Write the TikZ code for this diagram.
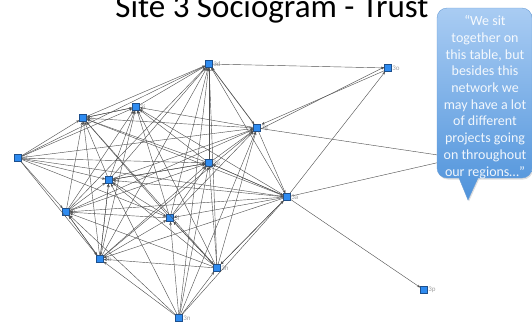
\documentclass[tikz,border=0pt]{standalone}
\usepackage{fontspec}
\setmainfont{Carlito}
\usetikzlibrary{arrows.meta,shadows}
\definecolor{actorblue}{HTML}{2E8BF0}
\definecolor{actoredge}{HTML}{1D4F8C}
\definecolor{tiegray}{HTML}{505050}
\definecolor{lblgray}{HTML}{A0A0A0}
\definecolor{calloutTop}{HTML}{A9CCF3}
\definecolor{calloutBot}{HTML}{4F93DB}
\definecolor{calloutEdge}{HTML}{6C9FD6}
\tikzset{
  actor/.style={rectangle, minimum size=7pt, inner sep=0pt, fill=actorblue, draw=actoredge, line width=0.4pt},
  lbl/.style={font=\fontsize{7}{8}\selectfont, text=lblgray, inner sep=0.5pt},
  tie/.style={draw=tiegray, line width=0.42pt, -{Stealth[length=3.2pt,width=2.6pt]}},
  tiepair/.style={tie, {Stealth[length=3.2pt,width=2.6pt]}-{Stealth[length=3.2pt,width=2.6pt]}},
}
\begin{document}
\begin{tikzpicture}[x=1pt,y=-1pt]
\useasboundingbox (0,0) rectangle (532,325);

% title
\node[anchor=base, font=\fontsize{33}{36}\selectfont, inner sep=0pt] (title) at (272,17) {Site 3 Sociogram - Trust};

% actors
\node[actor, label={[lbl]right:3d}] (s3d) at (209,64) {};
\node[actor, label={[lbl]right:3o}] (s3o) at (388,68) {};
\node[actor, label={[lbl]right:3c}] (s3c) at (83,118) {};
\node[actor, label={[lbl]right:3i}] (s3i) at (136,107) {};
\node[actor, label={[lbl]right:3f}] (s3f) at (18,158) {};
\node[actor, label={[lbl]right:3g}] (s3g) at (257,128) {};
\node[actor, label={[lbl]right:3e}] (s3e) at (209,163) {};
\node[actor, label={[lbl]right:3k}] (s3k) at (109,180) {};
\node[actor, label={[lbl]right:3j}] (s3j) at (66,212) {};
\node[actor, label={[lbl]right:3l}] (s3l) at (170,218) {};
\node[actor, label={[lbl]right:3b}] (s3b) at (100,259) {};
\node[actor, label={[lbl]right:3h}] (s3h) at (217,268) {};
\node[actor, label={[lbl]right:3n}] (s3n) at (179,318) {};
\node[actor, label={[lbl]right:3a}] (s3a) at (287,197) {};
\node[actor, label={[lbl]right:3p}] (s3p) at (424,290) {};
\node[actor] (s3m) at (458,158) {};

% ties inside the core group
\foreach \s/\t in {
  c/d, i/d, f/d, g/d, e/d, k/d, j/d, l/d, b/d, h/d, a/d, n/d,
  f/c, i/c, g/c, e/c, k/c, j/c, l/c, b/c, h/c, a/c,
  f/i, g/i, e/i, k/i, j/i, l/i, b/i, h/i, a/i,
  f/g, e/g, k/g, j/g, l/g, b/g, h/g, n/g,
  f/e, k/e, j/e, l/e, b/e, h/e, a/e, n/e,
  f/k, j/k, l/k, b/k, h/k, a/k, n/k,
  f/j, l/j, b/j, h/j, a/j, n/j,
  f/l, b/l, h/l, a/l, n/l,
  f/b, h/b, a/b, n/b,
  a/h, n/h,
  f/a, n/a, g/a}
  \draw[tie] (s3\s) -- (s3\t);
\foreach \s/\t in {d/g, c/i, k/e, l/h, j/b, e/a, h/a, b/k}
  \draw[tiepair] (s3\s) -- (s3\t);

% ties to the outer actors
\draw[tie] (s3d) -- (s3o);
\draw[tie] ([yshift=-1pt]s3g.east) -- ([yshift=1pt]s3o.west);
\draw[tie] ([yshift=1pt]s3o.south west) -- ([xshift=1pt]s3g.north east);
\draw[tie] (s3a) -- (s3o);
\draw[tie] (s3a) -- (s3p);
\draw[tie] (s3g) -- (s3m);
\draw[tie] (s3a) -- (s3m);

% speech bubble, drawn with an upward y axis so the shading runs light-to-dark downwards
\begin{scope}[y=1pt]
\path[drop shadow={opacity=0.25, shadow xshift=1pt, shadow yshift=-1.5pt},
      top color=calloutTop, bottom color=calloutBot, draw=calloutEdge, line width=0.4pt]
  (437,-18) arc[start angle=180, end angle=90, radius=10]
  -- (522,-8) arc[start angle=90, end angle=0, radius=10]
  -- (532,-168) arc[start angle=0, end angle=-90, radius=10]
  -- (478,-178) -- (468,-200) -- (459,-178)
  -- (447,-178) arc[start angle=-90, end angle=-180, radius=10] -- cycle;
\node[align=center, text=white, text opacity=0.9, font=\fontsize{14}{16.7}\selectfont, inner sep=0pt] (quote) at (485,-97)
  {“We sit\\together on\\this table, but\\besides this\\network we\\may have a lot\\of different\\projects going\\on throughout\\our regions…”};
\end{scope}
\end{tikzpicture}
\end{document}
